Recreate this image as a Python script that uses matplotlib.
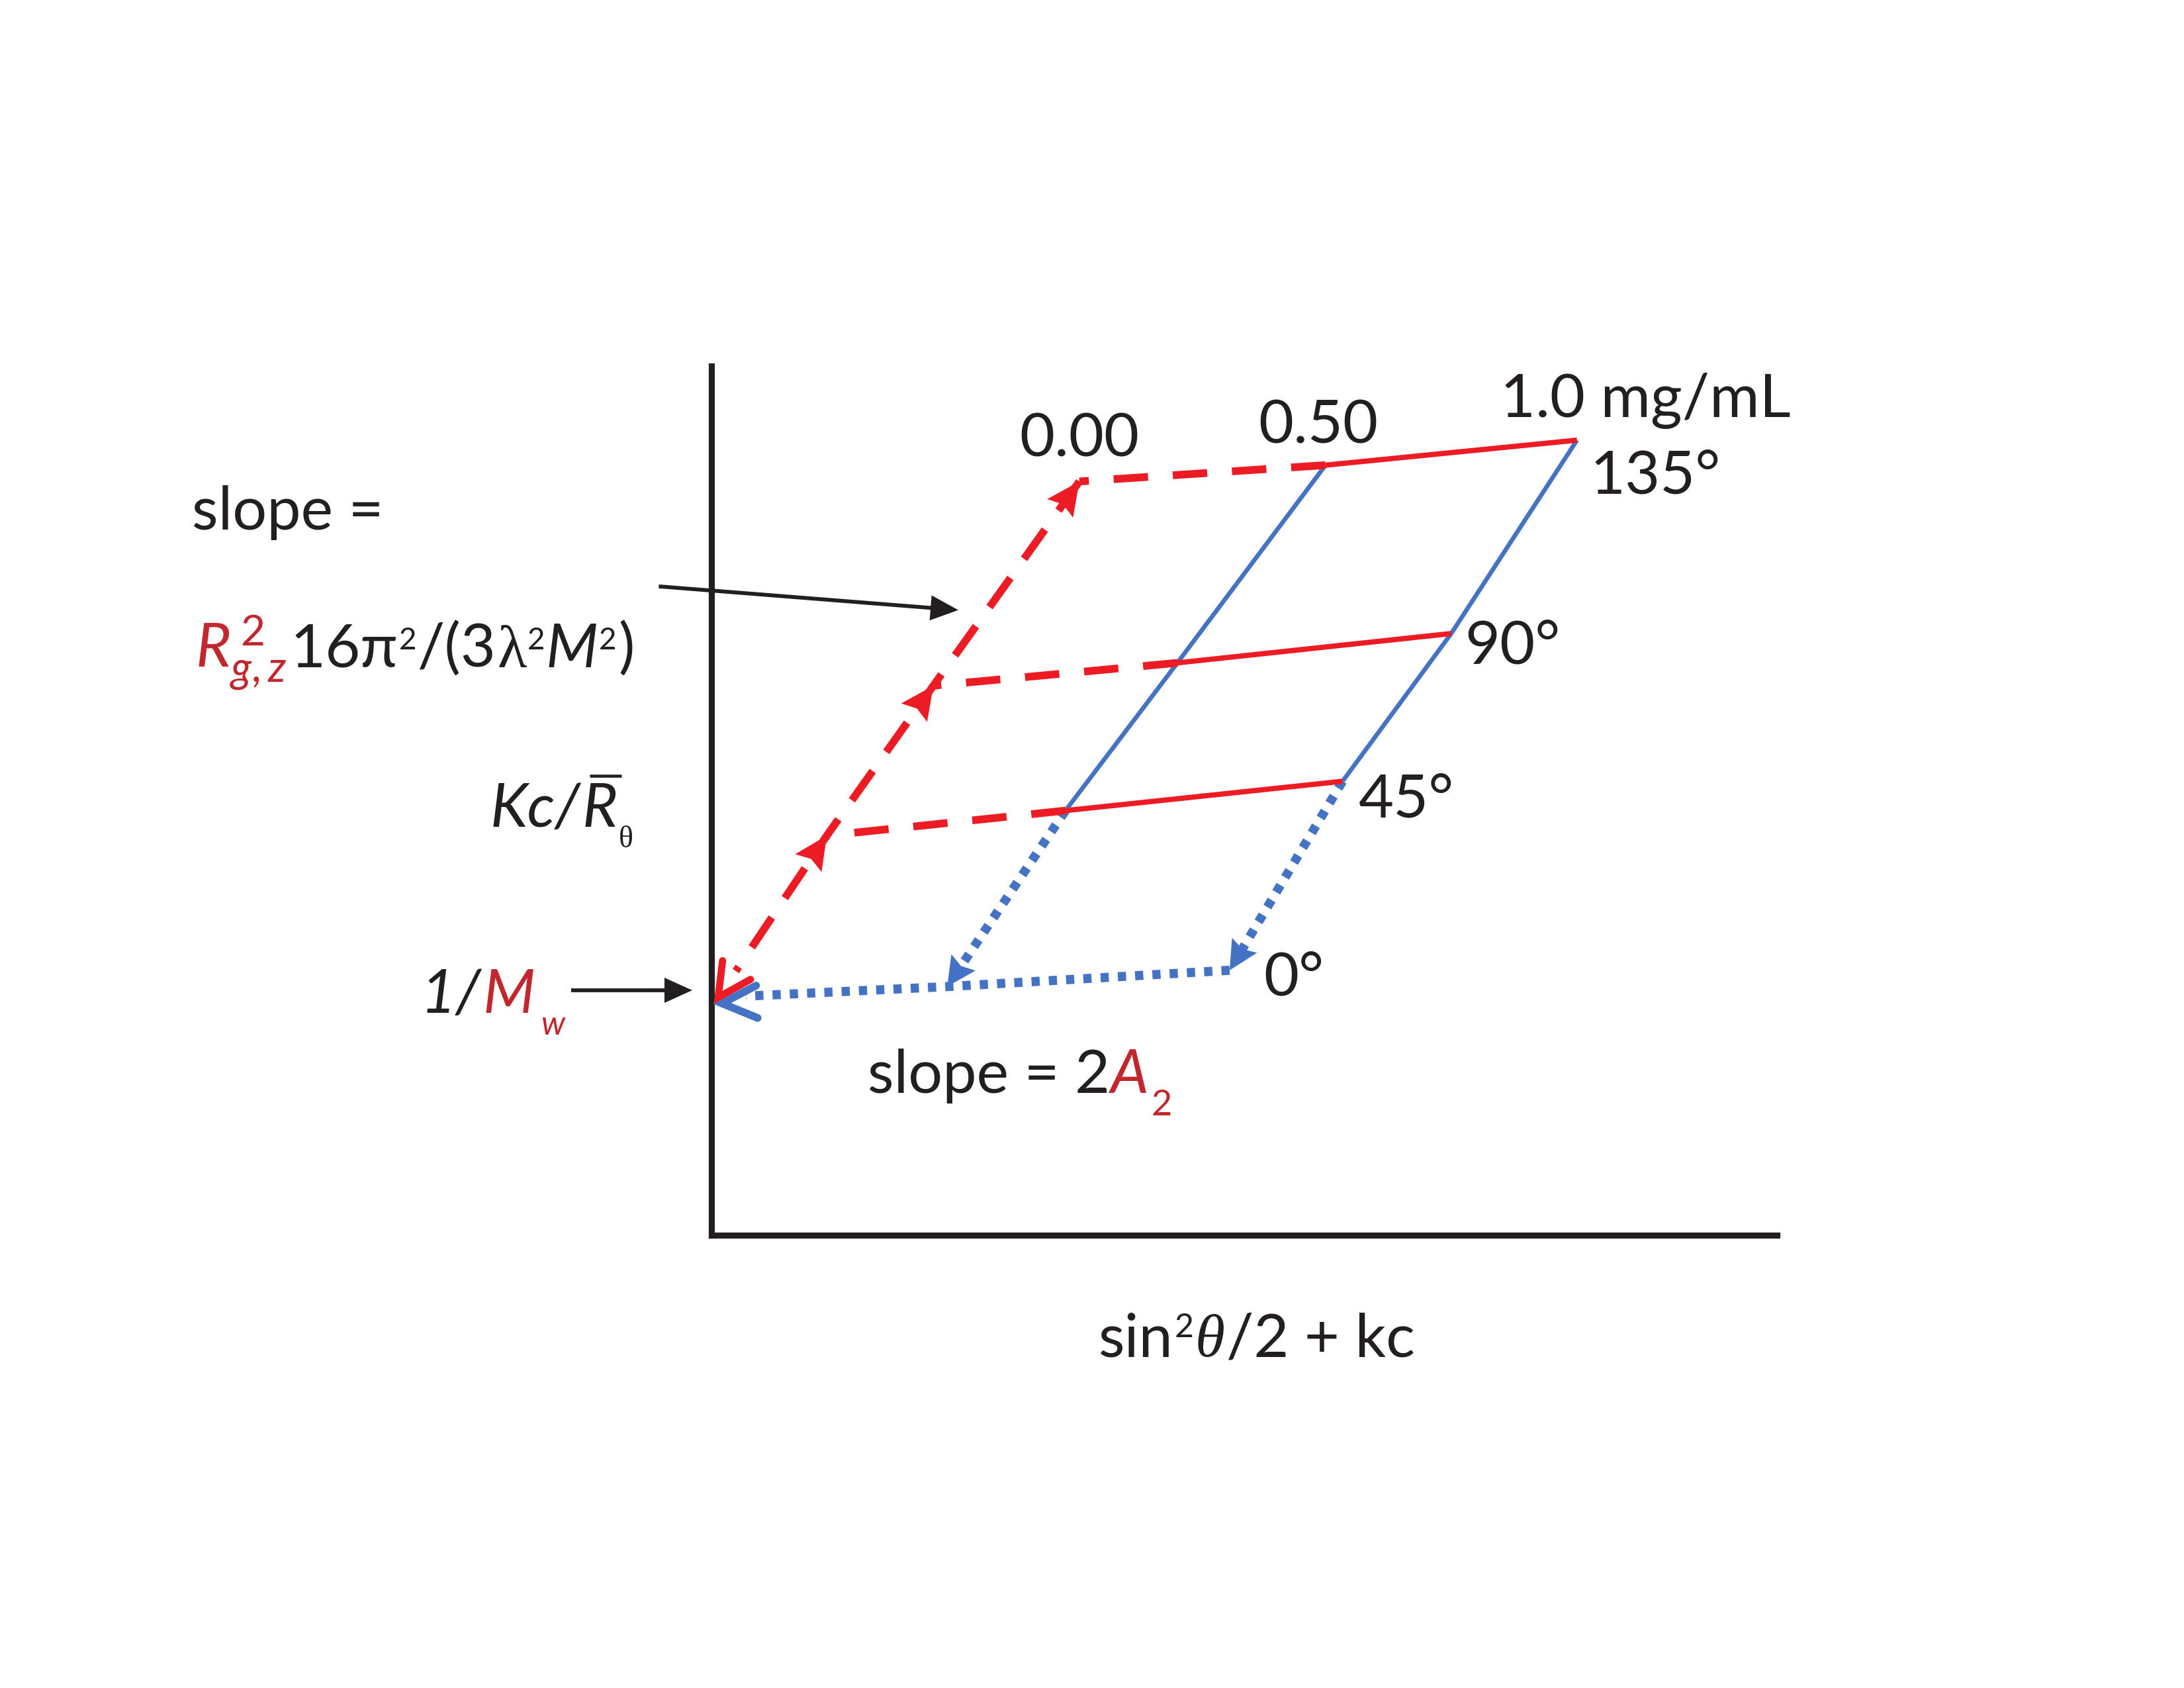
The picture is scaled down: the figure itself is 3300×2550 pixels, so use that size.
import numpy as np
import matplotlib
matplotlib.use("Agg")
import matplotlib.pyplot as plt

# ---------------- data ----------------
conc = [0.00, 0.50, 1.0]             # mg/mL  (rows)
angles = [0, 45, 90, 135]            # degrees (columns)
# x = sin^2(theta/2) + kc , y = Kc/R_theta  (diagram units, axis 0..10 x 0..8)
x_pos = [[0.06, 1.08, 2.08, 3.45],
         [2.21, 3.32, 4.37, 5.76],
         [4.86, 5.92, 6.94, 8.12]]
y_pos = [[2.19, 3.68, 5.06, 6.94],
         [2.29, 3.91, 5.27, 7.09],
         [2.44, 4.18, 5.54, 7.32]]
conc_labels = ["0.00", "0.50", "1.0 mg/mL"]
angle_labels = ["0°", "45°", "90°", "135°"]

# ---------------- style ----------------
plt.rcParams['font.family'] = ['Lato', 'DejaVu Sans']
plt.rcParams['mathtext.fontset'] = 'custom'
plt.rcParams['mathtext.rm'] = 'Lato'
plt.rcParams['mathtext.it'] = 'Lato:italic'
plt.rcParams['mathtext.bf'] = 'Lato:bold'
RED = '#ED1C24'
TRED = '#C1272D'
BLUE = '#4472C4'
INK = '#231F20'
FS = 22
SERIF = ['Liberation Serif', 'DejaVu Serif']

fig = plt.figure(figsize=(11, 8.5), dpi=300)
RW, RH = 1568.0, 1212.0
ax = fig.add_axes([511 / RW, 1 - 887 / RH, (1276 - 511) / RW, (887 - 263) / RH])
ax.set_xlim(0, 10)
ax.set_ylim(0, 8)
ax.set_xticks([])
ax.set_yticks([])
for s in ('top', 'right'):
    ax.spines[s].set_visible(False)
for s in ('left', 'bottom'):
    ax.spines[s].set_linewidth(2.2)
    ax.spines[s].set_color(INK)

X = np.array(x_pos)
Y = np.array(y_pos)
PT = fig.dpi / 72.0


def to_disp(p):
    return ax.transData.transform(np.asarray(p, float))


def to_data(P):
    return ax.transData.inverted().transform(np.asarray(P, float))


def unit(v):
    v = np.asarray(v, float)
    return v / np.hypot(*v)


def trim(p_from, p_to, px):
    A = to_disp(p_from)
    B = to_disp(p_to)
    return to_data(B - unit(B - A) * px)


def filled_head(tip, frm, color, length=48, width=46, notch=0.15, shift=(0, 0)):
    T = to_disp(tip) + np.asarray(shift, float)
    d = unit(to_disp(tip) - to_disp(frm))
    n = np.array([-d[1], d[0]])
    Bk = T - d * length
    P = np.array([T, Bk + n * width / 2, T - d * length * (1 - notch), Bk - n * width / 2])
    Q = to_data(P)
    ax.fill(Q[:, 0], Q[:, 1], color=color, lw=0, zorder=6, clip_on=False)


def rot(v, t):
    return np.array([v[0] * np.cos(t) - v[1] * np.sin(t), v[0] * np.sin(t) + v[1] * np.cos(t)])


def open_head(tip, frm, color, length=50, half_angle=27, lw=2.6, shift=(0, 0)):
    T = to_disp(tip) + np.asarray(shift, float)
    d = unit(to_disp(tip) - to_disp(frm))
    a = np.radians(half_angle)
    P = np.array([T - rot(d, a) * length, T, T - rot(d, -a) * length])
    Q = to_data(P)
    ax.plot(Q[:, 0], Q[:, 1], color=color, lw=lw, solid_capstyle='round',
            solid_joinstyle='miter', zorder=6, clip_on=False)


DOT = dict(color=BLUE, lw=3.3, dashes=(0.9, 1.0), dash_capstyle='butt', zorder=3)

# ---------------- blue: constant-concentration lines ----------------
for i in (1, 2):
    ax.plot(X[i, 1:], Y[i, 1:], color=BLUE, lw=1.6, solid_capstyle='butt', zorder=3)
    end = trim((X[i, 1], Y[i, 1]), (X[i, 0], Y[i, 0]), 14)
    ax.plot([X[i, 1], end[0]], [Y[i, 1], end[1]], **DOT)
    filled_head((X[i, 0], Y[i, 0]), (X[i, 1], Y[i, 1]), BLUE, length=44, width=44)

# theta = 0 extrapolation (dotted) to the intercept
xs0 = list(X[::-1, 0])
ys0 = list(Y[::-1, 0])
endA = trim((X[1, 0], Y[1, 0]), (X[0, 0], Y[0, 0]), 42)
xs0[-1], ys0[-1] = endA
ax.plot(xs0, ys0, **DOT)
open_head((X[0, 0], Y[0, 0]), (X[1, 0], Y[1, 0]), BLUE, length=58, half_angle=25, lw=2.8,
          shift=(6, -9))

# ---------------- red: constant-angle lines ----------------
for j in (1, 2, 3):
    ax.plot(X[1:, j], Y[1:, j], color=RED, lw=1.9, solid_capstyle='butt', zorder=4)
    ax.plot(X[1::-1, j], Y[1::-1, j], color=RED, lw=2.8,
            dashes=(12.5 / 2.8, 9 / 2.8), dash_capstyle='butt', zorder=4)

# c = 0 extrapolation (dashed)
xs = list(X[0, ::-1])
ys = list(Y[0, ::-1])
endR = trim((X[0, 1], Y[0, 1]), (X[0, 0], Y[0, 0]), 48)
xs[-1], ys[-1] = endR
ax.plot(xs, ys, color=RED, lw=2.8, dashes=(13 / 2.8, 8.5 / 2.8), dash_capstyle='butt', zorder=4)
for j in (1, 2, 3):
    filled_head((X[0, j], Y[0, j]), (X[0, j - 1], Y[0, j - 1]), RED, length=50, width=48)
open_head((X[0, 0], Y[0, 0]), (X[0, 1], Y[0, 1]), RED, length=56, half_angle=27, lw=2.6)

# ---------------- black pointer arrows ----------------
pointer_arrows = [((-0.497, 5.974), (2.314, 5.756)),
                  ((-1.32, 2.256), (-0.183, 2.256))]
for start, tip in pointer_arrows:
    base = trim(start, tip, 34)
    ax.plot([start[0], base[0]], [start[1], base[1]], color=INK, lw=1.4,
            solid_capstyle='butt', zorder=5, clip_on=False)
    filled_head(tip, start, INK, length=42, width=38, notch=0.0)

# ---------------- text ----------------
renderer = fig.canvas.get_renderer()


def chain(x, y, pieces):
    X0, Y0 = to_disp((x, y))
    cx = X0
    arts = []
    for s, kw, dx, dy, adv in pieces:
        fx, fy = fig.transFigure.inverted().transform((cx + dx * PT, Y0 + dy * PT))
        t = fig.text(fx, fy, s, ha='left', va='baseline', **kw)
        ext = t.get_window_extent(renderer)
        if adv:
            cx = ext.x1
        arts.append(t)
    return arts


def K(color=INK, size=FS, style='normal', family=None):
    d = dict(color=color, fontsize=size, fontstyle=style)
    if family is not None:
        d['family'] = family
    return d


# "slope ="
chain(-4.876, 6.50, [("slope =", K(), 0, 0, True)])

# R_{g,z}^2 16π²/(3λ²M²)
chain(-4.85, 5.23, [
    (r"$R^{\,2}_{g,z}$", K(TRED), 0, 0, True),
    ("16π", K(), 1.5, 0, True),
    ("2", K(size=11), 0.3, 6.5, True),
    ("/(3", K(), 0.3, 0, True),
    ("λ", K(family=SERIF), 0.5, 0, True),
    ("2", K(size=11), 0.3, 6.5, True),
    ("M", K(style='italic'), 0.3, 0, True),
    ("2", K(size=11), 0.3, 6.5, True),
    (")", K(), 0.5, 0, True),
])

# Kc/R̄θ
kr = chain(-2.08, 3.76, [
    ("Kc/", K(style='italic'), 0, 0, True),
    ("R", K(style='italic'), 0.5, 0, True),
    ("θ", K(size=11, family=SERIF), 0.5, -7.5, True),
])
eR = kr[1].get_window_extent(renderer)
wR = eR.x1 - eR.x0
ybar = eR.y1 + 2.5 * PT
p1 = to_data((eR.x0 + 0.22 * wR, ybar))
p2 = to_data((eR.x1 + 0.12 * wR, ybar))
ax.plot([p1[0], p2[0]], [p1[1], p2[1]], color=INK, lw=1.1, solid_capstyle='butt', clip_on=False)

# 1/M_w
chain(-2.73, 2.05, [
    ("1/", K(style='italic'), 0, 0, True),
    ("M", K(TRED, style='italic'), 0.5, 0, True),
    ("w", K(TRED, 12, 'italic'), 2.0, -8.0, True),
])

# slope = 2A_2
chain(1.46, 1.31, [
    ("slope = 2", K(), 0, 0, True),
    ("A", K(TRED, style='italic'), 0.3, 0, True),
    ("2", K(TRED, 13), 0.8, -8.0, True),
])

# x-axis label: sin²θ/2 + kc
chain(3.63, -1.115, [
    ("sin", K(), 0, 0, True),
    ("2", K(size=12), 0.5, 7.0, True),
    ("θ", K(style='italic', family=SERIF), 0.5, 0, True),
    ("/2 + kc", K(), 0.5, 0, True),
])

# concentration labels
conc_label_pos = [(3.45, 7.17, 'center'), (5.69, 7.29, 'center'), (7.40, 7.53, 'left')]
for lab, (lx, ly, ha) in zip(conc_labels, conc_label_pos):
    ax.text(lx, ly, lab, ha=ha, va='baseline', fontsize=FS, color=INK, clip_on=False)

# angle labels
angle_label_pos = [(5.18, 2.21), (6.07, 3.85), (7.07, 5.26), (8.24, 6.83)]
for lab, (lx, ly) in zip(angle_labels, angle_label_pos):
    ax.text(lx, ly, lab, ha='left', va='baseline', fontsize=FS, color=INK, clip_on=False)

fig.savefig("out.png", dpi=300, facecolor='white')
